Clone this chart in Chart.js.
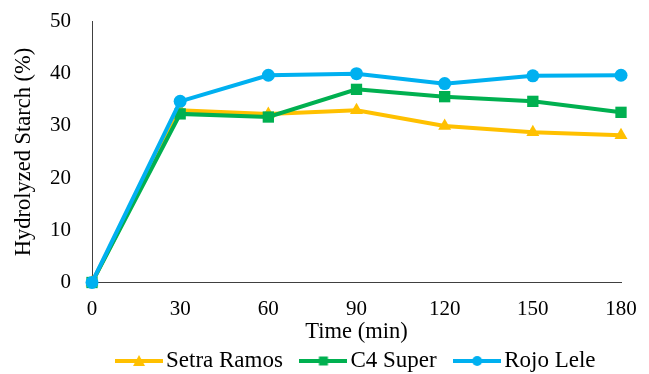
<!DOCTYPE html>
<html>
<head>
<meta charset="utf-8">
<script src="https://cdn.jsdelivr.net/npm/chart.js@4.4.1/dist/chart.umd.min.js"></script>
<style>
  html, body { margin: 0; padding: 0; background: #fff; }
  #wrap { width: 649px; height: 374px; position: relative; }
</style>
</head>
<body>
<div id="wrap"><canvas id="chart"></canvas></div>
<script>
// Hydrolyzed starch over time
const timeLabels = [0, 30, 60, 90, 120, 150, 180];
const setraRamos = [0, 33.0, 32.3, 33.0, 30.0, 28.8, 28.2];
const c4Super = [0, 32.3, 31.7, 37.0, 35.6, 34.7, 32.6];
const rojoLele = [0, 34.7, 39.7, 40.0, 38.1, 39.6, 39.7];
const yTicks = [0, 10, 20, 30, 40, 50];

const fontFamily = '"Liberation Serif", "Times New Roman", serif';

// small picture of line + marker for the legend
function legendIcon(color, shape) {
    const c = document.createElement('canvas');
    c.width = 48;
    c.height = 16;
    const ctx = c.getContext('2d');
    ctx.strokeStyle = color;
    ctx.fillStyle = color;
    ctx.lineWidth = 4;
    ctx.beginPath();
    ctx.moveTo(0, 8);
    ctx.lineTo(48, 8);
    ctx.stroke();
    ctx.beginPath();
    if (shape === 'triangle') {
        ctx.moveTo(24, 2);
        ctx.lineTo(30, 13);
        ctx.lineTo(18, 13);
        ctx.closePath();
    } else if (shape === 'rect') {
        ctx.rect(19.5, 3.5, 9, 9);
    } else {
        ctx.arc(24, 8, 5, 0, Math.PI * 2);
    }
    ctx.fill();
    return c;
}

function toPoints(values) {
    return values.map((v, i) => ({ x: timeLabels[i], y: v }));
}

// legend sits centred under the plot area, not the whole canvas
const legendShift = {
    id: 'legendShift',
    afterLayout(chart) {
        const lg = chart.legend;
        const dx = (chart.chartArea.left + chart.chartArea.right) / 2 - (lg.left + lg.right) / 2 + 3;
        lg.left += dx;
        lg.right += dx;
    }
};

const series = [
    { label: 'Setra Ramos', values: setraRamos, color: '#FFC000', shape: 'triangle', radius: 7.5, order: 3 },
    { label: 'C4 Super', values: c4Super, color: '#00B050', shape: 'rect', radius: 8, order: 2 },
    { label: 'Rojo Lele', values: rojoLele, color: '#00B0F0', shape: 'circle', radius: 6.5, order: 1 }
];

const ctx = document.getElementById('chart').getContext('2d');
const chart = new Chart(ctx, {
    type: 'line',
    plugins: [legendShift],
    data: {
        datasets: series.map(s => ({
            label: s.label,
            data: toPoints(s.values),
            borderColor: s.color,
            backgroundColor: s.color,
            borderWidth: 4,
            pointStyle: s.shape,
            pointRadius: s.radius,
            pointHoverRadius: s.radius,
            pointBorderWidth: 0,
            tension: 0,
            clip: false,
            order: s.order,
            legendIcon: legendIcon(s.color, s.shape)
        }))
    },
    options: {
        responsive: true,
        maintainAspectRatio: false,
        animation: false,
        layout: {
            autoPadding: false,
            padding: { left: 11, right: 28, top: 21.5, bottom: -8.5 }
        },
        plugins: {
            legend: {
                position: 'bottom',
                labels: {
                    usePointStyle: true,
                    pointStyleWidth: 31,
                    padding: 25,
                    color: '#000',
                    font: { family: fontFamily, size: 23 },
                    generateLabels: function(chart) {
                        return chart.data.datasets.map((ds, i) => ({
                            text: ds.label,
                            pointStyle: ds.legendIcon,
                            fillStyle: ds.borderColor,
                            strokeStyle: ds.borderColor,
                            lineWidth: 0,
                            hidden: false,
                            datasetIndex: i,
                            fontColor: '#000'
                        }));
                    }
                }
            },
            tooltip: { enabled: false }
        },
        scales: {
            x: {
                type: 'linear',
                min: 0,
                max: 180,
                grid: { display: false },
                border: { display: true, color: '#404040', width: 1 },
                afterFit: function(scale) {
                    scale.paddingLeft = 0;
                    scale.paddingRight = 0;
                },
                ticks: {
                    stepSize: 30,
                    padding: 6,
                    color: '#000',
                    font: { family: fontFamily, size: 21 }
                },
                title: {
                    display: true,
                    text: 'Time (min)',
                    color: '#000',
                    padding: { top: -9.2, bottom: -21 },
                    font: { family: fontFamily, size: 22.5 }
                }
            },
            y: {
                min: 0,
                max: 50,
                grid: { display: false },
                border: { display: true, color: '#404040', width: 1 },
                afterBuildTicks: function(scale) {
                    scale.ticks = yTicks.map(v => ({ value: v }));
                },
                afterFit: function(scale) {
                    scale.width = 81;
                    scale.paddingTop = 0;
                    scale.paddingBottom = 0;
                },
                ticks: {
                    padding: 13,
                    color: '#000',
                    font: { family: fontFamily, size: 21 }
                },
                title: {
                    display: true,
                    text: 'Hydrolyzed Starch (%)',
                    color: '#000',
                    padding: { top: 0, bottom: 4 },
                    font: { family: fontFamily, size: 22.5 }
                }
            }
        }
    }
});
</script>
</body>
</html>
